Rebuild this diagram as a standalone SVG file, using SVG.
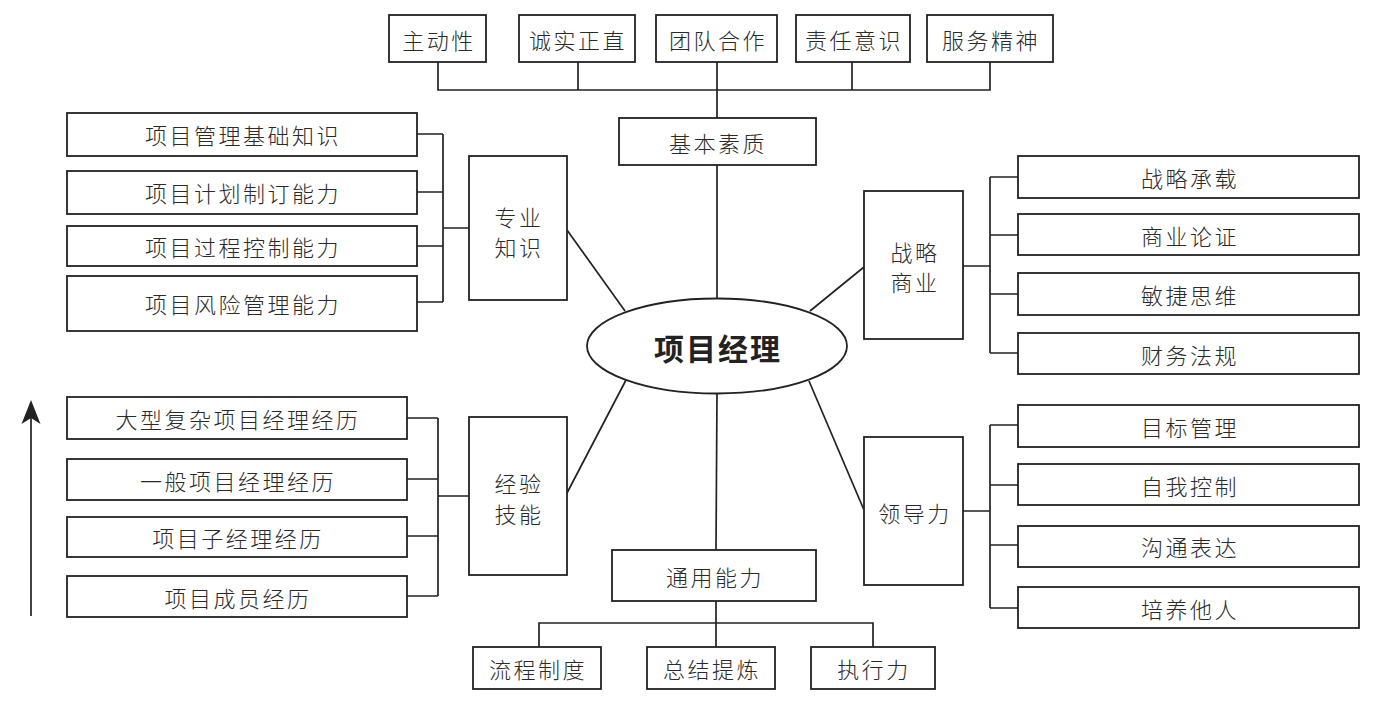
<svg xmlns="http://www.w3.org/2000/svg" width="1380" height="703" viewBox="0 0 1380 703">
<style>
.b{fill:#fff;stroke:#222;stroke-width:1.8}
.t{font-family:"Noto Sans CJK SC","Noto Sans",sans-serif;font-size:22px;font-weight:300;fill:#2a2a2a;text-anchor:middle;dominant-baseline:central;letter-spacing:2.5px}
.c{fill:none;stroke:#222;stroke-width:1.7}
.title{font-family:"Noto Sans CJK SC","Noto Sans",sans-serif;font-size:30px;font-weight:bold;fill:#222;text-anchor:middle;dominant-baseline:central;letter-spacing:2px}
.ah{fill:#222;stroke:none}
</style>
<g id="connectors">
<path class="c" d="M438 62V90H990V62M578 62V90M717 62V118M852 62V90"/>
<path class="c" d="M717 165V298"/>
<path class="c" d="M417 134H443M417 192H443M417 246H443M417 302H443M443 134V302M443 228H469"/>
<path class="c" d="M567 230L625 311"/>
<path class="c" d="M810 311L864 267"/>
<path class="c" d="M963 266H990M990 177V353M990 177H1018M990 235H1018M990 294H1018M990 353H1018"/>
<path class="c" d="M407 418H438M407 479H438M407 536H438M407 596H438M438 418V596M438 496H469"/>
<path class="c" d="M626 380L567 493"/>
<path class="c" d="M717 393L716 550"/>
<path class="c" d="M716 601V647M539 647V623H873V647"/>
<path class="c" d="M809 381L864 510"/>
<path class="c" d="M963 511H990M990 425V608M990 425H1018M990 485H1018M990 545H1018M990 608H1018"/>
<path class="c" d="M31 616V416" stroke-width="2"/>
<path class="ah" d="M31 400L40.5 424L31 418L21.5 424Z"/>
</g>
<g id="center"><ellipse cx="717" cy="346" rx="130" ry="47.5" class="b"/><text class="title" x="718" y="347">项目经理</text></g>
<g id="top-zdx"><rect class="b" x="389" y="15" width="97" height="47"/><text class="t" x="439" y="39">主动性</text></g>
<g id="top-cszz"><rect class="b" x="519" y="15" width="116" height="47"/><text class="t" x="578" y="39">诚实正直</text></g>
<g id="top-tdhz"><rect class="b" x="656" y="15" width="121" height="47"/><text class="t" x="718" y="39">团队合作</text></g>
<g id="top-zryz"><rect class="b" x="796" y="15" width="114" height="47"/><text class="t" x="854" y="39">责任意识</text></g>
<g id="top-fwjs"><rect class="b" x="927" y="15" width="126" height="47"/><text class="t" x="991" y="39">服务精神</text></g>
<g id="jbsz"><rect class="b" x="619" y="118" width="197" height="47"/><text class="t" x="718" y="142">基本素质</text></g>
<g id="zyzs"><rect class="b" x="469" y="156" width="98" height="144"/><text class="t" x="519" y="216">专业</text><text class="t" x="519" y="246">知识</text></g>
<g id="zy1"><rect class="b" x="67" y="113" width="350" height="43"/><text class="t" x="243" y="134">项目管理基础知识</text></g>
<g id="zy2"><rect class="b" x="67" y="171" width="350" height="43"/><text class="t" x="243" y="192">项目计划制订能力</text></g>
<g id="zy3"><rect class="b" x="67" y="226" width="350" height="40"/><text class="t" x="243" y="246">项目过程控制能力</text></g>
<g id="zy4"><rect class="b" x="67" y="276" width="350" height="55"/><text class="t" x="243" y="303">项目风险管理能力</text></g>
<g id="zlsy"><rect class="b" x="864" y="191" width="99" height="148"/><text class="t" x="915" y="251">战略</text><text class="t" x="915" y="281">商业</text></g>
<g id="zl1"><rect class="b" x="1018" y="156" width="341" height="42"/><text class="t" x="1190" y="177">战略承载</text></g>
<g id="zl2"><rect class="b" x="1018" y="214" width="341" height="41"/><text class="t" x="1190" y="235">商业论证</text></g>
<g id="zl3"><rect class="b" x="1018" y="273" width="341" height="42"/><text class="t" x="1190" y="294">敏捷思维</text></g>
<g id="zl4"><rect class="b" x="1018" y="333" width="341" height="41"/><text class="t" x="1190" y="354">财务法规</text></g>
<g id="jyjn"><rect class="b" x="469" y="417" width="98" height="158"/><text class="t" x="519" y="482">经验</text><text class="t" x="519" y="513">技能</text></g>
<g id="jy1"><rect class="b" x="67" y="397" width="340" height="42"/><text class="t" x="238" y="418">大型复杂项目经理经历</text></g>
<g id="jy2"><rect class="b" x="67" y="459" width="340" height="41"/><text class="t" x="238" y="480">一般项目经理经历</text></g>
<g id="jy3"><rect class="b" x="67" y="517" width="340" height="40"/><text class="t" x="238" y="537">项目子经理经历</text></g>
<g id="jy4"><rect class="b" x="67" y="576" width="340" height="41"/><text class="t" x="238" y="597">项目成员经历</text></g>
<g id="ldl"><rect class="b" x="864" y="437" width="99" height="148"/><text class="t" x="915" y="512">领导力</text></g>
<g id="ld1"><rect class="b" x="1018" y="405" width="341" height="42"/><text class="t" x="1190" y="426">目标管理</text></g>
<g id="ld2"><rect class="b" x="1018" y="464" width="341" height="41"/><text class="t" x="1190" y="485">自我控制</text></g>
<g id="ld3"><rect class="b" x="1018" y="526" width="341" height="41"/><text class="t" x="1190" y="546">沟通表达</text></g>
<g id="ld4"><rect class="b" x="1018" y="587" width="341" height="41"/><text class="t" x="1190" y="608">培养他人</text></g>
<g id="tynl"><rect class="b" x="612" y="550" width="204" height="51"/><text class="t" x="715" y="576">通用能力</text></g>
<g id="ty1"><rect class="b" x="473" y="647" width="128" height="42"/><text class="t" x="538" y="668">流程制度</text></g>
<g id="ty2"><rect class="b" x="647" y="647" width="128" height="42"/><text class="t" x="712" y="668">总结提炼</text></g>
<g id="ty3"><rect class="b" x="811" y="647" width="124" height="42"/><text class="t" x="874" y="668">执行力</text></g>
</svg>
